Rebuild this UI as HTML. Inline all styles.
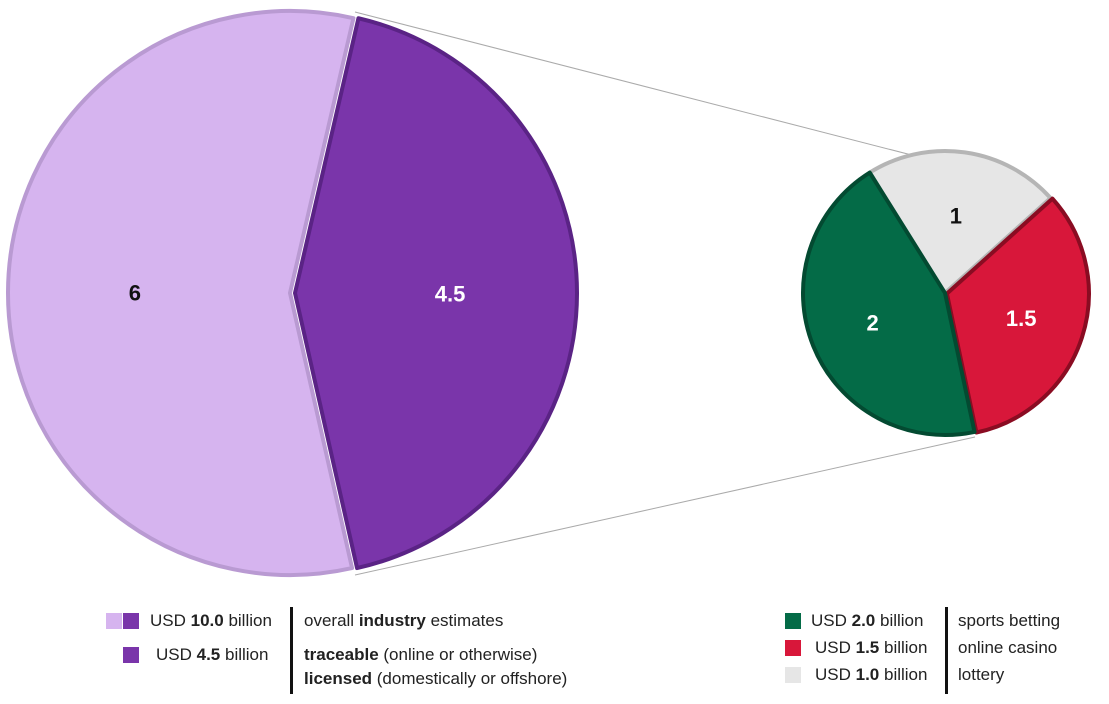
<!DOCTYPE html>
<html><head><meta charset="utf-8"><style>
body{margin:0;background:#fff;font-family:"Liberation Sans",sans-serif;}
#wrap{position:relative;width:1109px;height:704px;overflow:hidden}
.t{position:absolute;font-size:17px;color:#222;white-space:nowrap;line-height:20px}
.sq{position:absolute;width:16px;height:16px}
.vl{position:absolute;width:3px;background:#111}
</style></head><body>
<div id="wrap">
<svg id="svg" width="1109" height="704" style="position:absolute;left:0;top:0">
<line x1="355" y1="12" x2="1040" y2="188" stroke="#aaa" stroke-width="1"/>
<line x1="355" y1="575" x2="975" y2="437" stroke="#aaa" stroke-width="1"/>
</svg>
<div class="sq" style="left:106px;top:613px;background:#d6b4ef"></div>
<div class="sq" style="left:123px;top:613px;background:#7a35aa"></div>
<div class="t" style="left:150px;top:611px">USD <b>10.0</b> billion</div>
<div class="sq" style="left:123px;top:647px;background:#7a35aa"></div>
<div class="t" style="left:156px;top:645px">USD <b>4.5</b> billion</div>
<div class="vl" style="left:290px;top:607px;height:87px"></div>
<div class="t" style="left:304px;top:611px">overall <b>industry</b> estimates</div>
<div class="t" style="left:304px;top:645px"><b>traceable</b> (online or otherwise)</div>
<div class="t" style="left:304px;top:669px"><b>licensed</b> (domestically or offshore)</div>

<div class="sq" style="left:785px;top:613px;background:#046b47"></div>
<div class="t" style="left:811px;top:611px">USD <b>2.0</b> billion</div>
<div class="sq" style="left:785px;top:640px;background:#d8173a"></div>
<div class="t" style="left:815px;top:638px">USD <b>1.5</b> billion</div>
<div class="sq" style="left:785px;top:667px;background:#e6e6e6"></div>
<div class="t" style="left:815px;top:665px">USD <b>1.0</b> billion</div>
<div class="vl" style="left:945px;top:607px;height:87px"></div>
<div class="t" style="left:958px;top:611px">sports betting</div>
<div class="t" style="left:958px;top:638px">online casino</div>
<div class="t" style="left:958px;top:665px">lottery</div>
</div>
<script>
const mainLabels=["4.5","6"];
const mainValues=[4.5,6];
const mainNames=["traceable","untraced"];
const subLabels=["1","1.5","2"];
const subValues=[1,1.5,2];
const subNames=["lottery","casino","betting"];
const NS="http://www.w3.org/2000/svg";
const svg=document.getElementById('svg');
function pt(cx,cy,r,a){const t=a*Math.PI/180;return[cx+r*Math.sin(t),cy-r*Math.cos(t)];}
function drawPie(cx,cy,r,vals,labels,names,start,fills,strokes,txt,explode,prefix){
  const tot=vals.reduce((a,b)=>a+b,0);let a=start;
  vals.forEach((v,i)=>{
    const sw=v/tot*360,a2=a+sw,mid=a+sw/2;
    const [ox,oy]=pt(0,0,explode[i],mid);
    const x=cx+ox,y=cy+oy;
    const p1=pt(x,y,r,a),p2=pt(x,y,r,a2);
    const path=document.createElementNS(NS,'path');
    path.setAttribute('d',`M${x},${y}L${p1[0]},${p1[1]}A${r},${r} 0 ${sw>180?1:0} 1 ${p2[0]},${p2[1]}Z`);
    path.setAttribute('fill',fills[i]);path.setAttribute('stroke',strokes[i]);path.setAttribute('stroke-width','4');path.setAttribute('stroke-linejoin','round');
    
    
    svg.appendChild(path);
    const lp=pt(x,y,r*0.55,mid);
    const t=document.createElementNS(NS,'text');
    t.setAttribute('x',lp[0]);t.setAttribute('y',lp[1]+8);t.setAttribute('text-anchor','middle');
    t.setAttribute('font-size','22');t.setAttribute('font-weight','bold');t.setAttribute('fill',txt[i]);
    t.setAttribute('font-family','Liberation Sans, sans-serif');
    t.textContent=labels[i];
    
    
    svg.appendChild(t);
    a=a2;
  });
}
drawPie(290,293,282,mainValues,mainLabels,mainNames,13,["#7a35aa","#d6b4ef"],["#5a2385","#b99ad2"],["#fff","#111"],[5,0],'main');
drawPie(945,293,142,subValues,subLabels,subNames,-32,["#e6e6e6","#d8173a","#046b47"],["#b5b5b5","#8a0c22","#034a31"],["#111","#fff","#fff"],[0,2,0],'sub');
</script>
</body></html>
